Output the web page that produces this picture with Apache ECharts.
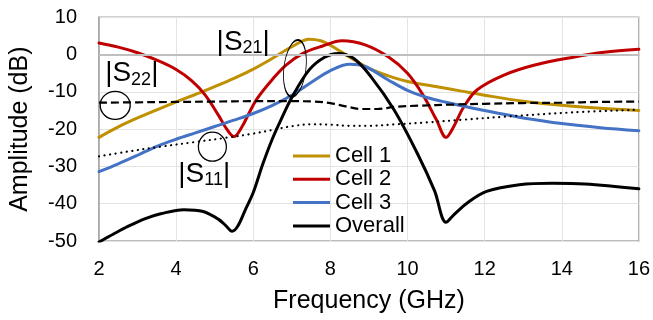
<!DOCTYPE html>
<html>
<head>
<meta charset="utf-8">
<script src="https://cdn.jsdelivr.net/npm/echarts/dist/echarts.min.js"></script>
<style>
  html, body { margin: 0; padding: 0; background: #fff; }
  #chart { width: 653px; height: 320px; }
</style>
</head>
<body>
<div id="chart"></div>
<script>
// Axis ticks
const freqTicks = [2, 4, 6, 8, 10, 12, 14, 16];
const ampTicks = [-50, -40, -30, -20, -10, 0, 10];

// |S21| of each cell and of the cascade, [frequency (GHz), amplitude (dB)]
const cell1 = [[2,-22.2],[2.5,-19.4],[3,-17],[3.5,-14.8],[4,-12.7],[4.5,-10.7],[5,-8.6],[5.5,-6.4],[6,-3.9],[6.5,-1.0],[7,2.1],[7.45,4.1],[7.75,3.7],[8,2.5],[8.5,-0.7],[9,-3.7],[9.5,-5.7],[10,-7.2],[10.8,-8.7],[11.4,-9.8],[12,-10.9],[13,-12.5],[14,-13.6],[15,-14.4],[16,-15.0]];
const cell2 = [[2,3.1],[2.5,2.0],[3,0.5],[3.5,-1.5],[4,-4.0],[4.4,-7.0],[4.75,-10.8],[5.1,-16.3],[5.3,-19.8],[5.5,-22],[5.7,-19.5],[5.9,-15.5],[6.1,-11.8],[6.5,-6.6],[6.85,-2.8],[7.3,0.4],[7.8,2.3],[8.3,3.7],[8.9,2.6],[9.5,-0.6],[10,-5],[10.4,-10.8],[10.75,-17.5],[11,-22.2],[11.2,-19.3],[11.45,-14.2],[11.8,-9.5],[12.5,-5.5],[13.3,-2.8],[14.3,-0.7],[15.1,0.6],[16,1.4]];
const cell3 = [[2,-31.4],[2.5,-29.3],[3,-27],[3.5,-24.6],[4,-22.7],[4.5,-21],[5,-19.3],[5.5,-17.6],[6,-15.8],[6.5,-13.6],[7,-10.9],[7.5,-7.5],[8,-4.3],[8.5,-2.6],[8.9,-3.2],[9.5,-6.8],[10,-9.6],[10.5,-11.5],[11,-12.8],[11.7,-14.4],[12.5,-16],[13,-17.0],[14,-18.5],[15,-19.6],[16,-20.4]];
const overall = [[2,-50.3],[2.4,-48],[2.75,-46.1],[3.2,-44],[3.6,-42.7],[4.2,-41.6],[4.7,-42.1],[5.1,-44.2],[5.3,-46],[5.45,-47.4],[5.6,-46],[5.8,-41.5],[6.0,-37],[6.25,-29.3],[6.5,-22.5],[6.75,-16.8],[7.0,-11.5],[7.45,-4.1],[7.85,-0.7],[8.2,0.3],[8.6,-1.0],[9.05,-5.9],[9.65,-14.8],[10.25,-26.4],[10.7,-36.5],[11.0,-45],[11.2,-43],[11.55,-39.8],[12.05,-36.7],[12.9,-34.9],[13.75,-34.5],[14.6,-34.7],[16,-36]];

// Reflection of the cascade: |S22| (dashed) and |S11| (dotted)
const s22 = [[2,-12.9],[3,-12.8],[4,-12.7],[5,-12.6],[6,-12.5],[7,-12.5],[7.6,-12.6],[8,-13.0],[8.4,-13.9],[8.8,-14.6],[9.2,-14.6],[9.7,-14.0],[10.3,-13.7],[11.2,-13.4],[12,-13.2],[13,-13.0],[14,-12.9],[15,-12.7],[16,-12.6]];
const s11 = [[2,-27.3],[2.75,-26.0],[3.6,-24.7],[4.45,-23.5],[5.3,-22.3],[6,-21.2],[6.5,-20.2],[7,-19.2],[7.5,-18.7],[8,-18.8],[8.5,-19.1],[9,-19.1],[9.7,-18.7],[10.5,-18.2],[11.4,-17.5],[12.6,-16.6],[14.3,-15.5],[16,-14.8]];

// Callouts: label anchors and ring centres in data units
const calloutLabels = [
  { text: '|S{s|22}|', at: [2.85, -5.1] },
  { text: '|S{s|21}|', at: [5.74, 3.4] },
  { text: '|S{s|11}|', at: [4.73, -32.0] }
];
const calloutRings = [
  { at: [2.42, -13.6], rx: 15, ry: 14, rot: 0 },
  { at: [4.94, -24.7], rx: 14, ry: 14.5, rot: 0 },
  { at: [7.08, -3.7], rx: 11, ry: 28.5, rot: -0.12 }
];

const FONT = 'Liberation Sans, Arial, sans-serif';
const chart = echarts.init(document.getElementById('chart'), null, { renderer: 'canvas' });

function line(name, data, color, width, type, cap, z) {
  return {
    name, type: 'line', data, symbol: 'none', smooth: 0.35, z,
    lineStyle: { color, width, type, cap },
    itemStyle: { color },
    emphasis: { disabled: true }
  };
}

const series = [
  line('Cell 1', cell1, '#BF9000', 3, 'solid', 'round', 2),
  line('Cell 2', cell2, '#C00000', 3, 'solid', 'round', 2),
  line('Cell 3', cell3, '#4472C4', 3, 'solid', 'round', 2),
  line('Overall', overall, '#000000', 3, 'solid', 'round', 3),
  line('|S22|', s22, '#000000', 2.2, [8, 4], 'butt', 3),
  line('|S11|', s11, '#000000', 2.2, [0.1, 5.5], 'round', 3)
];
// Zero reference line
series[0].markLine = {
  silent: true, symbol: 'none', label: { show: false },
  lineStyle: { color: '#BFBFBF', width: 2, type: 'solid' },
  data: [{ yAxis: 0 }]
};

chart.setOption({
  animation: false,
  textStyle: { fontFamily: FONT },
  grid: {
    left: 94.3, right: 12.3, top: 17.3, bottom: 79,
    show: true, borderColor: '#A6A6A6', borderWidth: 1.5, backgroundColor: 'transparent'
  },
  legend: {
    data: ['Cell 1', 'Cell 2', 'Cell 3', 'Overall'],
    orient: 'vertical', left: 293, top: 144.5, padding: 0,
    icon: 'rect', itemWidth: 37, itemHeight: 3, itemGap: 0.3,
    textStyle: { fontSize: 22, color: '#000', fontFamily: FONT, lineHeight: 23 },
    selectedMode: false
  },
  xAxis: {
    type: 'value', min: 2, max: 16, interval: 2,
    name: 'Frequency (GHz)', nameLocation: 'middle', nameGap: 48,
    nameTextStyle: { fontSize: 25, color: '#000', fontFamily: FONT },
    axisLine: { show: true, lineStyle: { color: '#A6A6A6', width: 1.5 } },
    axisTick: { show: false },
    axisLabel: { fontSize: 20, color: '#000', margin: 18, fontFamily: FONT,
      formatter: v => freqTicks.includes(v) ? String(v) : '' },
    splitLine: { show: true, lineStyle: { color: '#E3E3E3', width: 1 } }
  },
  yAxis: {
    type: 'value', min: -50, max: 10, interval: 10,
    name: 'Amplitude (dB)', nameLocation: 'middle', nameGap: 66, nameRotate: 90,
    nameTextStyle: { fontSize: 25, color: '#000', fontFamily: FONT },
    axisLine: { show: true, lineStyle: { color: '#A6A6A6', width: 1.5 } },
    axisTick: { show: false },
    axisLabel: { fontSize: 20, color: '#000', margin: 22, fontFamily: FONT,
      formatter: v => ampTicks.includes(v) ? String(v) : '' },
    splitLine: { show: true, lineStyle: { color: '#E3E3E3', width: 1 } }
  },
  series
});

// Callout text and rings placed through the grid's coordinate system
const graphics = [];
calloutLabels.forEach(c => {
  const p = chart.convertToPixel({ gridIndex: 0 }, c.at);
  graphics.push({
    type: 'text', x: p[0], y: p[1], z: 10, silent: true,
    style: {
      text: c.text, fill: '#000', font: '28px ' + FONT,
      fontSize: 28, fontFamily: FONT,
      align: 'center', verticalAlign: 'middle', lineHeight: 30,
      rich: { s: { fontSize: 18, fontFamily: FONT, fill: '#000', lineHeight: 16, verticalAlign: 'bottom' } }
    }
  });
});
calloutRings.forEach(r => {
  const p = chart.convertToPixel({ gridIndex: 0 }, r.at);
  graphics.push({
    type: 'circle', x: p[0], y: p[1], rotation: r.rot, scaleX: r.rx / r.ry, scaleY: 1,
    z: 10, silent: true,
    shape: { cx: 0, cy: 0, r: r.ry },
    style: { fill: 'none', stroke: '#000', lineWidth: 1.3, strokeNoScale: true }
  });
});
chart.setOption({ graphic: graphics });
</script>
</body>
</html>
